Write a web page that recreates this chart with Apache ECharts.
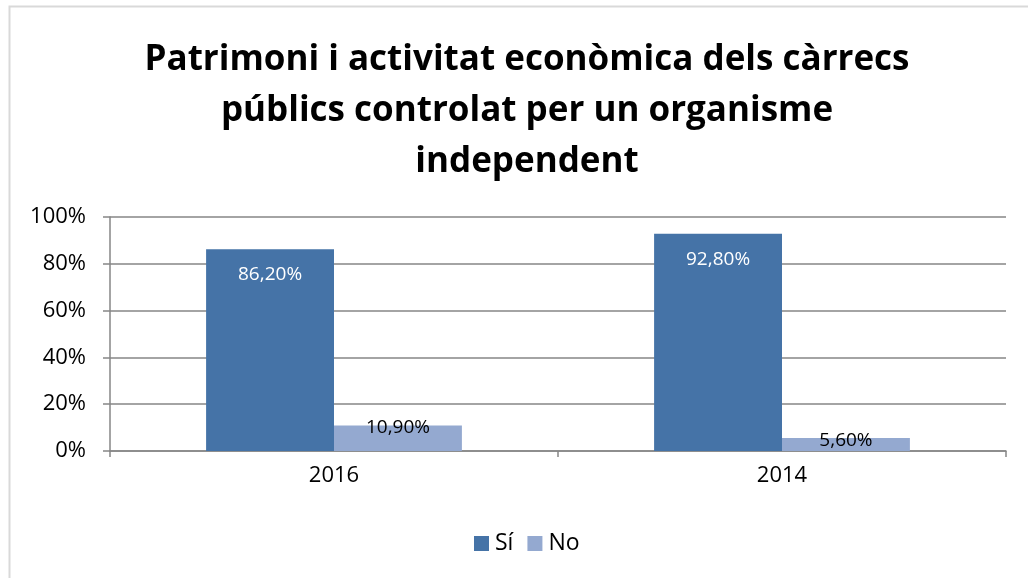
<!DOCTYPE html>
<html>
<head>
<meta charset="utf-8">
<script src="https://cdn.jsdelivr.net/npm/echarts@6/dist/echarts.min.js"></script>
<style>
  html, body { margin: 0; padding: 0; background: #fff; }
  #main { width: 1028px; height: 578px; }
</style>
</head>
<body>
<div id="main"></div>
<script>
// dades del gràfic
var categories = ['2016', '2014'];
var siValues = [86.2, 92.8];
var noValues = [10.9, 5.6];
var yTicks = [0, 20, 40, 60, 80, 100];

var FONT = 'Open Sans';

function pct(v) {
  return v.toFixed(2).replace('.', ',') + '%';
}

var chart = echarts.init(document.getElementById('main'), null, { renderer: 'canvas' });

var option = {
  backgroundColor: '#fff',
  animation: false,
  graphic: [{
    type: 'rect',
    shape: { x: 9.5, y: 6.5, width: 1030, height: 580 },
    style: { fill: 'none', stroke: '#d9d9d9', lineWidth: 2 },
    silent: true
  }],
  title: {
    text: 'Patrimoni i activitat econòmica dels càrrecs\npúblics controlat per un organisme\nindependent',
    left: 522,
    textAlign: 'center',
    top: 30,
    textStyle: {
      fontFamily: FONT,
      fontWeight: 'bold',
      fontSize: 35,
      lineHeight: 51,
      color: '#000'
    }
  },
  legend: {
    data: ['Sí', 'No'],
    bottom: 18,
    left: 469,
    itemWidth: 15,
    itemHeight: 15,
    itemGap: 14,
    icon: 'rect',
    textStyle: { fontFamily: FONT, fontSize: 23, color: '#000', padding: [0, 0, 0, 1] }
  },
  grid: {
    left: 110,
    right: 22,
    top: 217,
    bottom: 127,
    containLabel: false
  },
  xAxis: {
    type: 'category',
    data: categories,
    axisLine: { lineStyle: { color: '#868686', width: 1.5 } },
    axisTick: { show: true, length: 6, lineStyle: { color: '#868686', width: 1.5 } },
    axisLabel: { fontFamily: FONT, fontSize: 22, color: '#000', margin: 14 }
  },
  yAxis: {
    type: 'value',
    min: 0,
    max: 100,
    interval: 20,
    axisLine: { show: true, lineStyle: { color: '#868686', width: 1.5 } },
    axisTick: { show: true, length: 7, lineStyle: { color: '#868686', width: 1.5 } },
    splitLine: { lineStyle: { color: '#868686', width: 1.5 } },
    axisLabel: {
      fontFamily: FONT,
      fontSize: 22,
      color: '#000',
      margin: 24,
      formatter: function (v) { return yTicks.indexOf(v) >= 0 ? v + '%' : ''; }
    }
  },
  series: [
    {
      name: 'Sí',
      type: 'bar',
      data: siValues,
      barGap: '0%',
      barCategoryGap: '42.9%',
      itemStyle: { color: '#4573A7' },
      label: {
        show: true,
        position: 'insideTop',
        distance: 16,
        fontFamily: FONT,
        fontSize: 19,
        color: '#fff',
        formatter: function (p) { return pct(p.value); }
      }
    },
    {
      name: 'No',
      type: 'bar',
      data: noValues,
      itemStyle: { color: '#94A9D0' },
      label: {
        show: true,
        position: 'top',
        distance: -12,
        fontFamily: FONT,
        fontSize: 19,
        color: '#000',
        formatter: function (p) { return pct(p.value); }
      }
    }
  ]
};

chart.setOption(option);
</script>
</body>
</html>
